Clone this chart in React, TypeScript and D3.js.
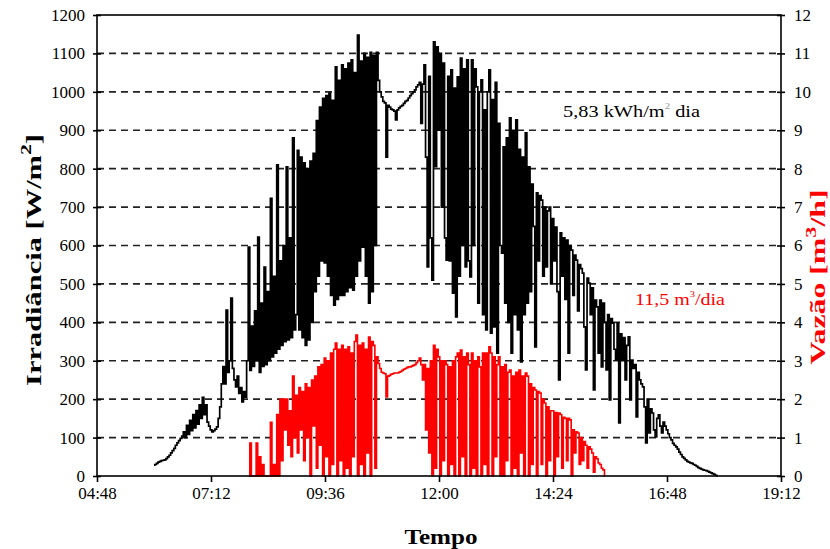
import { useEffect, useRef } from 'react';
import * as d3 from 'd3';

// Irradiância [W/m²], one value every 2 minutes, one array per hour
const irrHours = [6, 7, 8, 9, 10, 11, 12, 13, 14, 15, 16, 17];
const irr06 = [28, 30, 33, 36, 38, 40, 41, 42, 45, 50, 54, 60, 66, 72, 80, 86, 92, 98, 104, 115, 100, 132, 108, 145, 118, 160, 125, 170, 135, 185];
const irr07 = [150, 205, 160, 185, 140, 130, 120, 115, 118, 122, 128, 150, 180, 240, 285, 240, 432, 270, 300, 463, 280, 250, 232, 260, 215, 230, 193, 220, 205, 300];
const irr08 = [596, 275, 390, 285, 430, 300, 622, 270, 450, 285, 544, 290, 480, 300, 723, 310, 520, 320, 810, 330, 560, 340, 600, 350, 805, 354, 620, 360, 880, 380];
const irr09 = [420, 848, 380, 830, 360, 815, 340, 800, 354, 820, 400, 840, 480, 925, 520, 960, 560, 983, 555, 990, 520, 997, 470, 978, 445, 1065, 460, 1030, 470, 1070];
const irr10 = [470, 1060, 480, 1075, 490, 1083, 484, 1050, 520, 1148, 560, 1080, 596, 1100, 520, 1090, 450, 1103, 480, 1095, 600, 1103, 1030, 1000, 987, 975, 971, 830, 965, 960];
const irr11 = [955, 953, 950, 927, 953, 958, 962, 965, 970, 975, 978, 984, 990, 995, 1000, 1005, 1013, 1018, 1025, 918, 1020, 1070, 830, 544, 1040, 620, 510, 1130, 805, 1117];
const irr12 = [900, 1100, 700, 1075, 620, 562, 1040, 560, 1057, 476, 1010, 414, 1039, 520, 1088, 600, 1060, 544, 1083, 560, 518, 1083, 600, 1060, 1013, 450, 1000, 1031, 420, 953];
const irr13 = [380, 1000, 1057, 372, 980, 388, 1025, 320, 918, 600, 580, 857, 450, 880, 400, 932, 320, 900, 420, 927, 380, 850, 297, 830, 420, 893, 450, 805, 480, 760];
const irr14 = [650, 336, 737, 560, 730, 718, 520, 700, 544, 690, 700, 500, 670, 560, 648, 480, 250, 633, 520, 620, 460, 614, 320, 600, 588, 470, 575, 562, 430, 550];
const irr15 = [540, 528, 388, 276, 515, 502, 420, 490, 224, 458, 440, 320, 458, 284, 450, 400, 276, 420, 198, 410, 398, 330, 302, 398, 138, 370, 300, 360, 250, 340];
const irr16 = [362, 198, 302, 280, 290, 154, 270, 250, 240, 232, 180, 86, 200, 112, 175, 164, 120, 102, 150, 159, 130, 112, 140, 130, 120, 110, 100, 94, 85, 80];
const irr17 = [76, 70, 62, 56, 50, 46, 42, 38, 36, 34, 33, 30, 28, 25, 22, 20, 18, 16, 15, 14, 12, 10, 8, 6, 4, 2, 0];
const irrValues = [irr06, irr07, irr08, irr09, irr10, irr11, irr12, irr13, irr14, irr15, irr16, irr17];

// Vazão [m³/h], one value every 2 minutes, one array per hour
const flowHours = [8, 9, 10, 11, 12, 13, 14, 15];
const flow08 = [0, 0.86, 0, 0, 0, 0.86, 0, 0.5, 0, 0.3, 0, 0, 0, 0, 1.4, 0, 0.3, 0, 1.6, 0, 2.0, 0.4, 2.0, 1.2, 2.0, 0.8, 1.7, 0.5, 2.6, 1.0];
const flow09 = [2.1, 0.6, 2.3, 1.2, 2.2, 0.4, 2.4, 1.0, 2.3, 0, 2.5, 1.3, 2.6, 0.2, 2.84, 0.8, 2.9, 0, 3.07, 0.5, 3.0, 0, 3.2, 0.3, 3.3, 3.46, 0, 3.3, 0.4, 3.4];
const flow10 = [0, 3.3, 0.2, 3.36, 0, 3.2, 0.5, 3.5, 3.67, 0, 3.4, 0.3, 3.46, 0, 3.3, 0.6, 3.62, 0, 3.5, 3.4, 0.2, 3.1, 2.93, 2.8, 2.7, 2.68, 2.66, 2.06, 2.6, 2.62];
const flow11 = [2.65, 2.66, 2.68, 2.68, 2.68, 2.7, 2.72, 2.75, 2.78, 2.8, 2.82, 2.84, 2.84, 2.86, 2.88, 2.9, 2.95, 3.0, 3.07, 2.9, 2.5, 2.9, 1.2, 2.8, 0.6, 3.0, 0, 3.4, 0.2, 3.3];
const flow12 = [3.1, 0, 3.0, 0.4, 3.0, 2.9, 0, 2.84, 0.3, 3.0, 0, 3.1, 3.2, 0, 3.28, 0.5, 3.1, 0, 3.2, 2.9, 0, 3.2, 0.2, 3.0, 0, 3.1, 2.84, 0, 3.2, 0.3];
const flow13 = [3.2, 0, 3.36, 3.2, 0, 3.1, 0.5, 2.9, 3.1, 0, 2.84, 0, 2.9, 0.4, 2.7, 2.76, 0, 2.6, 0.2, 2.7, 0, 2.76, 0.6, 2.6, 0, 2.68, 2.6, 0, 2.4, 0.3];
const flow14 = [2.3, 2.24, 0, 2.2, 2.16, 0.3, 2.0, 1.9, 0, 1.8, 0.4, 1.7, 1.7, 0, 1.65, 0.5, 1.64, 1.6, 0.2, 1.53, 1.5, 0.4, 1.5, 1.46, 0, 1.2, 0.6, 1.15, 1.12, 0.3];
const flow15 = [1.0, 0.4, 0.9, 0.8, 0.2, 0.76, 0.7, 0.6, 0.1, 0.5, 0.45, 0.34, 0.3, 0.2, 0.16, 0];
const flowValues = [flow08, flow09, flow10, flow11, flow12, flow13, flow14, flow15];

// axes (time in minutes since midnight)
const timeTicks = [288, 432, 576, 720, 864, 1008, 1152];
const irrTicks = [0, 100, 200, 300, 400, 500, 600, 700, 800, 900, 1000, 1100, 1200];
const flowTicks = [0, 1, 2, 3, 4, 5, 6, 7, 8, 9, 10, 11, 12];

const toSeries = (hours: number[], arrs: number[][]) =>
  hours.flatMap((h, k) => arrs[k].map((v, i) => ({ t: h * 60 + i * 2, v })));

export default function App() {
  const ref = useRef<SVGSVGElement>(null);

  useEffect(() => {
    document.body.style.margin = '0';
    if (!ref.current) return;
    const svg = d3.select(ref.current);
    svg.selectAll('*').remove();

    const width = 830;
    const height = 549;
    const left = 97, right = 781, top = 15, bottom = 476;
    const font = 'Liberation Serif, Times New Roman, serif';

    const x = d3.scaleLinear().domain([288, 1152]).range([left, right]);
    const yL = d3.scaleLinear().domain([0, 1200]).range([bottom, top]);
    const yR = d3.scaleLinear().domain([0, 12]).range([bottom, top]);

    svg.attr('width', width).attr('height', height).attr('viewBox', [0, 0, width, height])
      .style('font-family', font);
    svg.append('rect').attr('width', width).attr('height', height).attr('fill', '#fff');

    // dashed grid
    svg.append('g')
      .selectAll('line')
      .data(irrTicks.filter(d => d > 0 && d < 1200))
      .join('line')
      .attr('x1', left).attr('x2', right)
      .attr('y1', d => yL(d)).attr('y2', d => yL(d))
      .attr('stroke', '#222').attr('stroke-width', 1.6)
      .attr('stroke-dasharray', '7,5');

    const fmt = (m: number) => `${String(Math.floor(m / 60)).padStart(2, '0')}:${String(m % 60).padStart(2, '0')}`;

    // series (logger data, drawn as steps)
    const irr = toSeries(irrHours, irrValues);
    const flow = toSeries(flowHours, flowValues);

    svg.append('path')
      .datum(irr)
      .attr('fill', 'none').attr('stroke', '#000').attr('stroke-width', 1.7)
      .attr('d', d3.line<{ t: number; v: number }>().curve(d3.curveStep).x(d => x(d.t)).y(d => yL(d.v)));

    svg.append('path')
      .datum(flow)
      .attr('fill', 'none').attr('stroke', '#ff0000').attr('stroke-width', 1.6)
      .attr('d', d3.line<{ t: number; v: number }>().curve(d3.curveStep).x(d => x(d.t)).y(d => yR(d.v)));

    // frame
    svg.append('rect')
      .attr('x', left).attr('y', top).attr('width', right - left).attr('height', bottom - top)
      .attr('fill', 'none').attr('stroke', '#000').attr('stroke-width', 1.6);

    // axes
    const xAxis = svg.append('g')
      .attr('transform', `translate(0,${bottom})`)
      .call(d3.axisBottom(x).tickValues(timeTicks).tickFormat(d => fmt(+d)).tickSize(6).tickPadding(5));
    xAxis.select('.domain').remove();

    const yAxisL = svg.append('g')
      .attr('transform', `translate(${left},0)`)
      .call(d3.axisLeft(yL).tickValues(irrTicks).tickFormat(d3.format('d')).tickSize(4).tickPadding(8));
    yAxisL.select('.domain').remove();
    yAxisL.selectAll('.tick line').attr('x1', 4);

    const yAxisR = svg.append('g')
      .attr('transform', `translate(${right},0)`)
      .call(d3.axisRight(yR).tickValues(flowTicks).tickFormat(d3.format('d')).tickSize(4).tickPadding(9));
    yAxisR.select('.domain').remove();
    yAxisR.selectAll('.tick line').attr('x1', -4);

    svg.selectAll('g').attr('font-family', null);
    svg.selectAll('.tick line').attr('stroke', '#000').attr('stroke-width', 1.6);
    svg.selectAll('.tick text')
      .style('font-family', font).attr('font-size', 17).attr('fill', '#000');

    // titles
    const yTitle = svg.append('text')
      .attr('transform', `translate(41,260) rotate(-90)`)
      .attr('text-anchor', 'middle')
      .attr('textLength', 252).attr('lengthAdjust', 'spacingAndGlyphs')
      .style('font-family', font).attr('font-size', 21).attr('font-weight', 'bold');
    yTitle.append('tspan').text('Irradiância [W/m');
    yTitle.append('tspan').attr('dy', -10).attr('font-size', 15).text('2');
    yTitle.append('tspan').attr('dy', 10).text(']');

    const yTitleR = svg.append('text')
      .attr('transform', `translate(825,277) rotate(-90)`)
      .attr('text-anchor', 'middle')
      .attr('textLength', 175).attr('lengthAdjust', 'spacingAndGlyphs')
      .style('font-family', font).attr('font-size', 20).attr('font-weight', 'bold')
      .attr('fill', '#ff0000');
    yTitleR.append('tspan').text('Vazão [m');
    yTitleR.append('tspan').attr('dy', -9).attr('font-size', 14).text('3');
    yTitleR.append('tspan').attr('dy', 9).text('/h]');

    svg.append('text')
      .attr('x', 441).attr('y', 544)
      .attr('text-anchor', 'middle')
      .attr('textLength', 73).attr('lengthAdjust', 'spacingAndGlyphs')
      .style('font-family', font).attr('font-size', 20).attr('font-weight', 'bold')
      .text('Tempo');

    // annotations
    const energy = svg.append('text')
      .attr('x', 563).attr('y', 117)
      .attr('textLength', 137).attr('lengthAdjust', 'spacingAndGlyphs')
      .style('font-family', font).attr('font-size', 17).attr('fill', '#000');
    energy.append('tspan').text('5,83 kWh/m');
    energy.append('tspan').attr('dy', -8).attr('font-size', 9).attr('fill', '#999').text('2');
    energy.append('tspan').attr('dy', 8).text(' dia');

    const volume = svg.append('text')
      .attr('x', 635).attr('y', 305)
      .attr('textLength', 90).attr('lengthAdjust', 'spacingAndGlyphs')
      .style('font-family', font).attr('font-size', 17).attr('fill', '#ff0000');
    volume.append('tspan').text('11,5 m');
    volume.append('tspan').attr('dy', -8).attr('font-size', 9).text('3');
    volume.append('tspan').attr('dy', 8).text('/dia');
  }, []);

  return <svg ref={ref} style={{ display: 'block' }} />;
}
